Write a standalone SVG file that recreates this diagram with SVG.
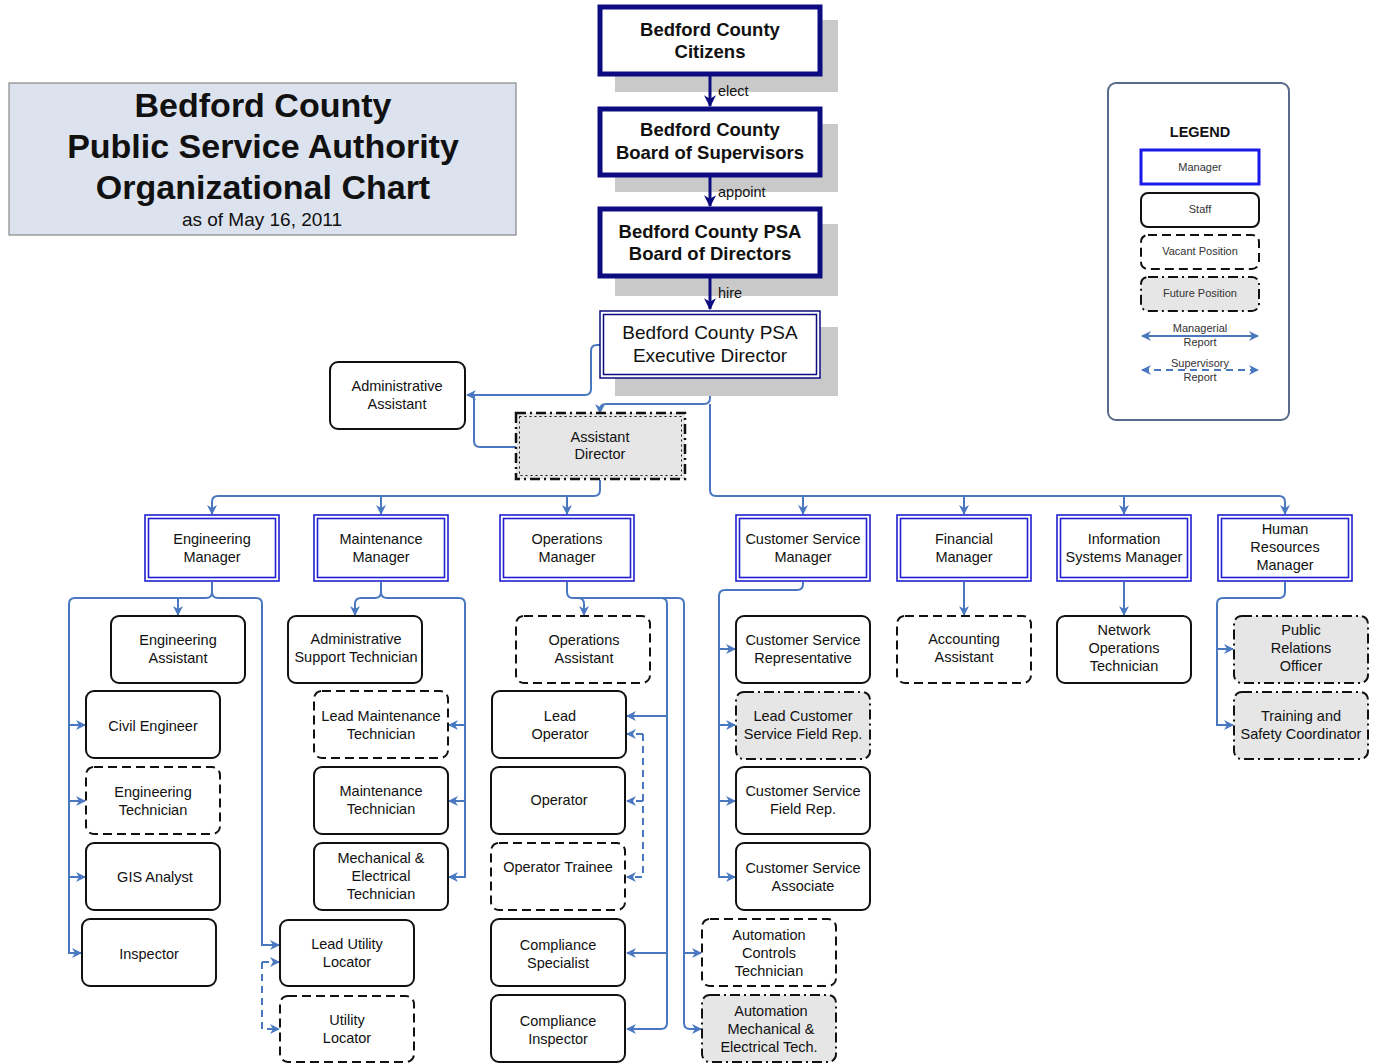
<svg xmlns="http://www.w3.org/2000/svg" width="1373" height="1063" viewBox="0 0 1373 1063">
<defs>
<style>
text{font-family:"Liberation Sans",Arial,sans-serif;fill:#111;text-anchor:middle}
.t{font-size:14.5px}
.tb{font-size:18.5px;font-weight:bold}
.tr{font-size:19px}
.lg{font-size:11px;fill:#333}
.lbl{font-size:14.5px;text-anchor:start}
.shadow{fill:#c9c9c9}
.top{fill:#fff;stroke:#0c0c80;stroke-width:5}
.exo{fill:#fff;stroke:#0c0c80;stroke-width:1.5}
.exi{fill:none;stroke:#0c0c80;stroke-width:1.5}
.mo{fill:#fff;stroke:#2020d0;stroke-width:1.6}
.mi{fill:none;stroke:#2020d0;stroke-width:1.6}
.staff{fill:#fff;stroke:#111;stroke-width:2}
.vac{fill:#fff;stroke:#111;stroke-width:2;stroke-dasharray:9,5}
.fut{fill:#e6e6e6;stroke:#111;stroke-width:2;stroke-dasharray:10,4,2,4}
.c{fill:none;stroke:#4a78c0;stroke-width:2}
.cd{fill:none;stroke:#4a78c0;stroke-width:2;stroke-dasharray:7,5}
.n{fill:none;stroke:#0c0c80;stroke-width:3}
</style>
<marker id="ab" viewBox="0 0 10 10" refX="9" refY="5" markerWidth="10" markerHeight="10" markerUnits="userSpaceOnUse" orient="auto-start-reverse"><path d="M0,0 L10,5 L0,10 L3,5 z" fill="#4a78c0"/></marker>
<marker id="an" viewBox="0 0 10 10" refX="9" refY="5" markerWidth="12" markerHeight="12" markerUnits="userSpaceOnUse" orient="auto"><path d="M0,0 L10,5 L0,10 L3,5 z" fill="#0c0c80"/></marker>
</defs>
<rect width="1373" height="1063" fill="#fff"/>

<g id="title">
<rect x="9" y="83" width="507" height="152" fill="#dce3ef" stroke="#888" stroke-width="1.2"/>
<text x="263" y="117" style="font-size:34px;font-weight:bold">Bedford County</text>
<text x="263" y="158" style="font-size:34px;font-weight:bold">Public Service Authority</text>
<text x="263" y="199" style="font-size:34px;font-weight:bold">Organizational Chart</text>
<text x="262" y="226" style="font-size:19px">as of May 16, 2011</text>
</g>

<g id="legend">
<rect x="1108" y="83" width="181" height="337" rx="8" fill="#fff" stroke="#5a6a8a" stroke-width="2"/>
<text x="1200" y="137" style="font-size:14.5px;font-weight:bold">LEGEND</text>
<rect x="1141" y="150" width="118" height="34" fill="#fff" stroke="#1a1ae6" stroke-width="3"/>
<text class="lg" x="1200" y="171">Manager</text>
<rect x="1141" y="193" width="118" height="34" rx="7" class="staff"/>
<text class="lg" x="1200" y="213">Staff</text>
<rect x="1141" y="235" width="118" height="34" rx="7" class="vac"/>
<text class="lg" x="1200" y="255">Vacant Position</text>
<rect x="1141" y="277" width="118" height="34" rx="7" class="fut"/>
<text class="lg" x="1200" y="297">Future Position</text>
<path class="c" d="M1142,336 L1258,336" marker-start="url(#ab)" marker-end="url(#ab)"/>
<text class="lg" x="1200" y="332">Managerial</text>
<text class="lg" x="1200" y="346">Report</text>
<path class="cd" d="M1142,370 L1258,370" marker-start="url(#ab)" marker-end="url(#ab)"/>
<text class="lg" x="1200" y="367">Supervisory</text>
<text class="lg" x="1200" y="381">Report</text>
</g>

<g id="connectors">
<path class="c" d="M600,345 L597,345 Q591,345 591,351 L591,389 Q591,395 585,395 L467,395" marker-end="url(#ab)"/>
<path class="c" d="M516,447 L480,447 Q474,447 474,441 L474,395"/>
<path class="c" d="M710,378 L710,398 Q710,404 704,404 L606,404 Q600,404 600,410 L600,413" marker-end="url(#ab)"/>
<path class="c" d="M710,404 L710,490 Q710,496 716,496 L1279,496 Q1285,496 1285,502 L1285,514" marker-end="url(#ab)"/>
<path class="c" d="M803,496 L803,514" marker-end="url(#ab)"/>
<path class="c" d="M964,496 L964,514" marker-end="url(#ab)"/>
<path class="c" d="M1124,496 L1124,514" marker-end="url(#ab)"/>
<path class="c" d="M600,480 L600,490 Q600,496 594,496 L218,496 Q212,496 212,502 L212,514" marker-end="url(#ab)"/>
<path class="c" d="M381,496 L381,514" marker-end="url(#ab)"/>
<path class="c" d="M567,496 L567,514" marker-end="url(#ab)"/>

<path class="c" d="M212,582 L212,592 Q212,598 206,598 L75,598 Q69,598 69,604 L69,953 L81,953" marker-end="url(#ab)"/>
<path class="c" d="M69,725 L85,725" marker-end="url(#ab)"/>
<path class="c" d="M69,801 L85,801" marker-end="url(#ab)"/>
<path class="c" d="M69,877 L85,877" marker-end="url(#ab)"/>
<path class="c" d="M178,598 L178,615" marker-end="url(#ab)"/>
<path class="c" d="M212,592 Q212,598 218,598 L256,598 Q262,598 262,604 L262,945 L279,945" marker-end="url(#ab)"/>
<path class="cd" d="M262,962 L279,962" marker-end="url(#ab)"/>
<path class="cd" d="M262,962 L262,1029 L279,1029" marker-end="url(#ab)"/>

<path class="c" d="M381,582 L381,592 Q381,598 375,598 L361,598 Q355,598 355,604 L355,615" marker-end="url(#ab)"/>
<path class="c" d="M381,592 Q381,598 387,598 L459,598 Q465,598 465,604 L465,877 L449,877" marker-end="url(#ab)"/>
<path class="c" d="M465,725 L449,725" marker-end="url(#ab)"/>
<path class="c" d="M465,801 L449,801" marker-end="url(#ab)"/>

<path class="c" d="M567,582 L567,592 Q567,598 573,598 L578,598 Q584,598 584,604 L584,615" marker-end="url(#ab)"/>
<path class="c" d="M573,598 L661,598 Q667,598 667,604 L667,1023 Q667,1029 661,1029 L627,1029" marker-end="url(#ab)"/>
<path class="c" d="M667,716 L627,716" marker-end="url(#ab)"/>
<path class="c" d="M667,953 L627,953" marker-end="url(#ab)"/>
<path class="c" d="M661,598 L678,598 Q684,598 684,604 L684,1023 Q684,1029 690,1029 L701,1029" marker-end="url(#ab)"/>
<path class="c" d="M684,953 L701,953" marker-end="url(#ab)"/>
<path class="cd" d="M643,734 L627,734" marker-end="url(#ab)"/>
<path class="cd" d="M643,734 L643,877 L627,877" marker-end="url(#ab)"/>
<path class="cd" d="M643,801 L627,801" marker-end="url(#ab)"/>

<path class="c" d="M803,582 L803,584 Q803,590 797,590 L725,590 Q719,590 719,596 L719,877 L735,877" marker-end="url(#ab)"/>
<path class="c" d="M719,649 L735,649" marker-end="url(#ab)"/>
<path class="c" d="M719,725 L735,725" marker-end="url(#ab)"/>
<path class="c" d="M719,801 L735,801" marker-end="url(#ab)"/>

<path class="c" d="M964,582 L964,615" marker-end="url(#ab)"/>
<path class="c" d="M1124,582 L1124,615" marker-end="url(#ab)"/>

<path class="c" d="M1285,582 L1285,592 Q1285,598 1279,598 L1223,598 Q1217,598 1217,604 L1217,725 L1233,725" marker-end="url(#ab)"/>
<path class="c" d="M1217,649 L1233,649" marker-end="url(#ab)"/>
</g>

<g id="citizens">
<rect class="shadow" x="615" y="20" width="223" height="72"/>
<rect class="top" x="600" y="7" width="220" height="67"/>
<text class="tb" x="710" y="36">Bedford County</text>
<text class="tb" x="710" y="58">Citizens</text>
</g>
<g id="supervisors">
<rect class="shadow" x="615" y="124" width="223" height="68"/>
<rect class="top" x="600" y="109" width="220" height="66"/>
<text class="tb" x="710" y="136">Bedford County</text>
<text class="tb" x="710" y="159">Board of Supervisors</text>
</g>
<g id="psa-board">
<rect class="shadow" x="615" y="224" width="223" height="72"/>
<rect class="top" x="600" y="209" width="220" height="67"/>
<text class="tb" x="710" y="238">Bedford County PSA</text>
<text class="tb" x="710" y="260">Board of Directors</text>
</g>
<g id="exec-director">
<rect class="shadow" x="615" y="327" width="223" height="69"/>
<rect class="exo" x="600" y="311" width="220" height="67"/>
<rect class="exi" x="603.5" y="314.5" width="213" height="60"/>
<text class="tr" x="710" y="339">Bedford County PSA</text>
<text class="tr" x="710" y="362">Executive Director</text>
</g>

<g id="top-connectors">
<path class="n" d="M710,76 L710,106" marker-end="url(#an)"/>
<text class="lbl" x="718" y="96">elect</text>
<path class="n" d="M710,177 L710,206" marker-end="url(#an)"/>
<text class="lbl" x="718" y="197">appoint</text>
<path class="n" d="M710,278 L710,309" marker-end="url(#an)"/>
<text class="lbl" x="718" y="298">hire</text>
</g>

<g id="admin-assistant">
<rect class="staff" x="330" y="362" width="135" height="67" rx="8"/>
<text class="t" x="397" y="391">Administrative</text>
<text class="t" x="397" y="409">Assistant</text>
</g>
<g id="assistant-director">
<rect x="516" y="413" width="169" height="66" fill="#e6e6e6" stroke="#111" stroke-width="2.5" stroke-dasharray="10,4,2,4"/>
<rect x="519.5" y="416.5" width="162" height="59" fill="none" stroke="#111" stroke-width="1" stroke-dasharray="2,3"/>
<text class="t" x="600" y="442">Assistant</text>
<text class="t" x="600" y="459">Director</text>
</g>

<g id="eng-mgr"><rect class="mo" x="145" y="515" width="134" height="66"/><rect class="mi" x="148.5" y="518.5" width="127" height="59"/>
<text class="t" x="212" y="544">Engineering</text><text class="t" x="212" y="562">Manager</text></g>
<g id="maint-mgr"><rect class="mo" x="314" y="515" width="134" height="66"/><rect class="mi" x="317.5" y="518.5" width="127" height="59"/>
<text class="t" x="381" y="544">Maintenance</text><text class="t" x="381" y="562">Manager</text></g>
<g id="ops-mgr"><rect class="mo" x="500" y="515" width="134" height="66"/><rect class="mi" x="503.5" y="518.5" width="127" height="59"/>
<text class="t" x="567" y="544">Operations</text><text class="t" x="567" y="562">Manager</text></g>
<g id="cs-mgr"><rect class="mo" x="736" y="515" width="134" height="66"/><rect class="mi" x="739.5" y="518.5" width="127" height="59"/>
<text class="t" x="803" y="544">Customer Service</text><text class="t" x="803" y="562">Manager</text></g>
<g id="fin-mgr"><rect class="mo" x="897" y="515" width="134" height="66"/><rect class="mi" x="900.5" y="518.5" width="127" height="59"/>
<text class="t" x="964" y="544">Financial</text><text class="t" x="964" y="562">Manager</text></g>
<g id="is-mgr"><rect class="mo" x="1057" y="515" width="134" height="66"/><rect class="mi" x="1060.5" y="518.5" width="127" height="59"/>
<text class="t" x="1124" y="544">Information</text><text class="t" x="1124" y="562">Systems Manager</text></g>
<g id="hr-mgr"><rect class="mo" x="1218" y="515" width="134" height="66"/><rect class="mi" x="1221.5" y="518.5" width="127" height="59"/>
<text class="t" x="1285" y="534">Human</text><text class="t" x="1285" y="552">Resources</text><text class="t" x="1285" y="570">Manager</text></g>

<g id="eng-asst"><rect class="staff" x="111" y="616" width="134" height="67" rx="8"/>
<text class="t" x="178" y="645">Engineering</text><text class="t" x="178" y="663">Assistant</text></g>
<g id="civil-eng"><rect class="staff" x="86" y="691" width="134" height="67" rx="8"/>
<text class="t" x="153" y="731">Civil Engineer</text></g>
<g id="eng-tech"><rect class="vac" x="86" y="767" width="134" height="67" rx="8"/>
<text class="t" x="153" y="797">Engineering</text><text class="t" x="153" y="815">Technician</text></g>
<g id="gis"><rect class="staff" x="86" y="843" width="134" height="67" rx="8"/>
<text class="t" x="155" y="882">GIS Analyst</text></g>
<g id="inspector"><rect class="staff" x="82" y="919" width="134" height="67" rx="8"/>
<text class="t" x="149" y="959">Inspector</text></g>
<g id="lead-utility"><rect class="staff" x="280" y="920" width="134" height="66" rx="8"/>
<text class="t" x="347" y="949">Lead Utility</text><text class="t" x="347" y="967">Locator</text></g>
<g id="utility"><rect class="vac" x="280" y="996" width="134" height="66" rx="8"/>
<text class="t" x="347" y="1025">Utility</text><text class="t" x="347" y="1043">Locator</text></g>

<g id="admin-support"><rect class="staff" x="288" y="616" width="134" height="67" rx="8"/>
<text class="t" x="356" y="644">Administrative</text><text class="t" x="356" y="662">Support Technician</text></g>
<g id="lead-maint"><rect class="vac" x="314" y="691" width="134" height="67" rx="8"/>
<text class="t" x="381" y="721">Lead Maintenance</text><text class="t" x="381" y="739">Technician</text></g>
<g id="maint-tech"><rect class="staff" x="314" y="767" width="134" height="67" rx="8"/>
<text class="t" x="381" y="796">Maintenance</text><text class="t" x="381" y="814">Technician</text></g>
<g id="mech-elec"><rect class="staff" x="314" y="843" width="134" height="67" rx="8"/>
<text class="t" x="381" y="863">Mechanical &amp;</text><text class="t" x="381" y="881">Electrical</text><text class="t" x="381" y="899">Technician</text></g>

<g id="ops-asst"><rect class="vac" x="516" y="616" width="134" height="67" rx="8"/>
<text class="t" x="584" y="645">Operations</text><text class="t" x="584" y="663">Assistant</text></g>
<g id="lead-op"><rect class="staff" x="492" y="691" width="134" height="67" rx="8"/>
<text class="t" x="560" y="721">Lead</text><text class="t" x="560" y="739">Operator</text></g>
<g id="operator"><rect class="staff" x="491" y="767" width="134" height="67" rx="8"/>
<text class="t" x="559" y="805">Operator</text></g>
<g id="op-trainee"><rect class="vac" x="491" y="843" width="134" height="67" rx="8"/>
<text class="t" x="558" y="872">Operator Trainee</text></g>
<g id="comp-spec"><rect class="staff" x="491" y="919" width="134" height="67" rx="8"/>
<text class="t" x="558" y="950">Compliance</text><text class="t" x="558" y="968">Specialist</text></g>
<g id="comp-insp"><rect class="staff" x="491" y="995" width="134" height="67" rx="8"/>
<text class="t" x="558" y="1026">Compliance</text><text class="t" x="558" y="1044">Inspector</text></g>
<g id="auto-ctrl"><rect class="vac" x="702" y="919" width="134" height="67" rx="8"/>
<text class="t" x="769" y="940">Automation</text><text class="t" x="769" y="958">Controls</text><text class="t" x="769" y="976">Technician</text></g>
<g id="auto-mech"><rect class="fut" x="702" y="995" width="134" height="67" rx="8"/>
<text class="t" x="771" y="1016">Automation</text><text class="t" x="771" y="1034">Mechanical &amp;</text><text class="t" x="769" y="1052">Electrical Tech.</text></g>

<g id="cs-rep"><rect class="staff" x="736" y="616" width="134" height="67" rx="8"/>
<text class="t" x="803" y="645">Customer Service</text><text class="t" x="803" y="663">Representative</text></g>
<g id="lead-cs-field"><rect class="fut" x="736" y="692" width="134" height="67" rx="8"/>
<text class="t" x="803" y="721">Lead Customer</text><text class="t" x="803" y="739">Service Field Rep.</text></g>
<g id="cs-field"><rect class="staff" x="736" y="767" width="134" height="67" rx="8"/>
<text class="t" x="803" y="796">Customer Service</text><text class="t" x="803" y="814">Field Rep.</text></g>
<g id="cs-assoc"><rect class="staff" x="736" y="843" width="134" height="67" rx="8"/>
<text class="t" x="803" y="873">Customer Service</text><text class="t" x="803" y="891">Associate</text></g>

<g id="acct-asst"><rect class="vac" x="897" y="616" width="134" height="67" rx="8"/>
<text class="t" x="964" y="644">Accounting</text><text class="t" x="964" y="662">Assistant</text></g>
<g id="net-ops"><rect class="staff" x="1057" y="616" width="134" height="67" rx="8"/>
<text class="t" x="1124" y="635">Network</text><text class="t" x="1124" y="653">Operations</text><text class="t" x="1124" y="671">Technician</text></g>
<g id="pr-officer"><rect class="fut" x="1234" y="616" width="134" height="67" rx="8"/>
<text class="t" x="1301" y="635">Public</text><text class="t" x="1301" y="653">Relations</text><text class="t" x="1301" y="671">Officer</text></g>
<g id="training"><rect class="fut" x="1234" y="692" width="134" height="67" rx="8"/>
<text class="t" x="1301" y="721">Training and</text><text class="t" x="1301" y="739">Safety Coordinator</text></g>
</svg>
